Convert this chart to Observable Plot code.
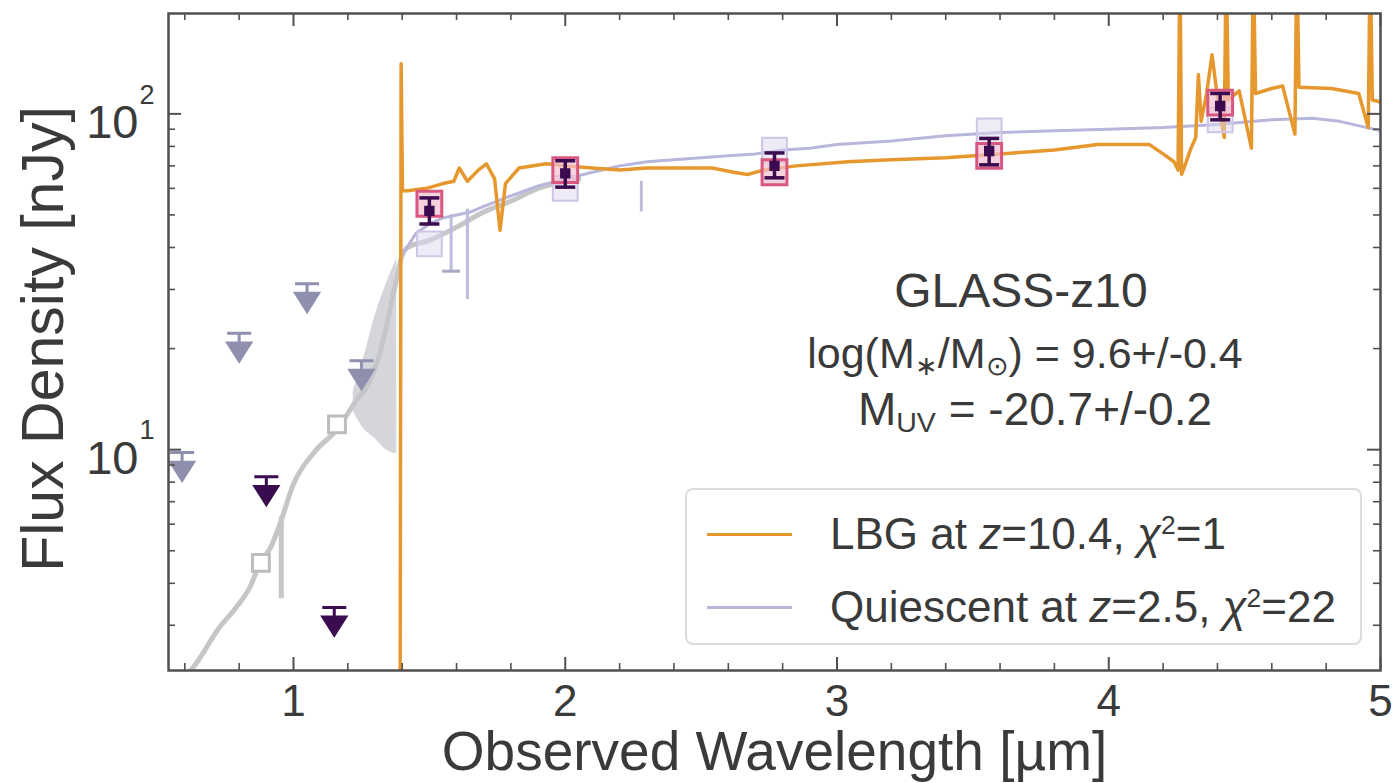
<!DOCTYPE html>
<html>
<head>
<meta charset="utf-8">
<script src="https://cdn.jsdelivr.net/npm/d3@7"></script>
<script src="https://cdn.jsdelivr.net/npm/@observablehq/plot@0.6"></script>
<style>
  body { margin: 0; background: #fff; font-family: "Liberation Sans", Arial, sans-serif; }
  #wrap { position: relative; width: 1392px; height: 783px; overflow: hidden; background: #fff; }
  .ann { position: absolute; transform: translate(-50%, -50%); white-space: nowrap; line-height: 1; color: #3a3a3a; }
  .ann sub { font-size: 0.62em; vertical-align: -0.25em; }
  #legend { position: absolute; left: 685px; top: 488px; width: 677px; height: 157px; box-sizing: border-box;
            border: 2px solid #dcdcdc; border-radius: 8px; background: rgba(255,255,255,0.85); }
  .lg-line { position: absolute; left: 20px; width: 85px; height: 0; }
  .lg-text { position: absolute; left: 143px; font-size: 44px; line-height: 1; color: #3a3a3a; transform: translateY(-50%); white-space: nowrap; }
  .lg-text sup { font-size: 0.6em; vertical-align: 0.55em; line-height: 0; }
</style>
</head>
<body>
<div id="wrap"></div>
<script>
// ---------------- data ----------------
// LBG model spectrum (z = 10.4)
const lbgWave = [1.380, 1.392, 1.396, 1.401, 1.42, 1.49, 1.55, 1.59, 1.61, 1.64, 1.68, 1.71, 1.74, 1.76, 1.78, 1.83, 1.93, 2.00, 2.10, 2.20, 2.30, 2.42, 2.54, 2.62, 2.67, 2.73, 2.85, 3.04, 3.20, 3.40, 3.65, 3.80, 3.96, 4.15, 4.20, 4.24, 4.255, 4.262, 4.268, 4.28, 4.30, 4.32, 4.33, 4.34, 4.36, 4.38, 4.40, 4.425, 4.432, 4.44, 4.48, 4.525, 4.532, 4.54, 4.60, 4.64, 4.685, 4.692, 4.70, 4.82, 4.92, 4.955, 4.962, 4.97, 4.99, 5.00];
const lbgFlux = [1, 1, 141, 59, 59, 60, 62, 63, 69, 63, 68, 71, 64, 45, 62, 69, 71, 70, 69, 68, 69, 69, 69, 67, 66, 68, 70, 72, 73, 74, 76.5, 78, 81, 81, 76, 72, 68, 300, 66, 70, 78, 85, 131, 95, 115, 150, 112, 85, 300, 110, 117, 79, 300, 115, 119, 121, 87, 300, 120, 119, 115, 91, 300, 110, 109, 108];

// Quiescent model spectrum (z = 2.5)
const quiWave = [1.40, 1.45, 1.50, 1.55, 1.60, 1.65, 1.70, 1.75, 1.80, 1.85, 1.90, 2.00, 2.10, 2.20, 2.30, 2.40, 2.50, 2.60, 2.70, 2.80, 2.90, 3.00, 3.20, 3.40, 3.60, 3.80, 4.00, 4.20, 4.40, 4.60, 4.75, 4.85, 4.95, 5.00];
const quiFlux = [38, 44, 47, 49, 50, 51, 53, 55, 57, 59, 61, 64, 67, 70, 72, 73, 74, 75, 76, 78, 79, 81, 83, 86, 88, 89, 90, 91, 93, 96, 97, 95, 91, 89];

// grey short-wavelength spectrum
const greyWave = [0.58, 0.65, 0.72, 0.79, 0.84, 0.87, 0.92, 0.95, 1.00, 1.08, 1.165, 1.23, 1.276, 1.32, 1.375, 1.40, 1.42, 1.50, 1.60, 1.70, 1.80, 1.90, 2.00, 2.05];
const greyFlux = [2.0, 2.36, 2.9, 3.4, 3.9, 4.46, 5.2, 6.0, 7.9, 9.9, 11.6, 14.0, 15.7, 19.7, 31, 38, 40, 42, 46, 51, 55, 60, 63, 64];

// grey spectral band 1.22-1.38 um
const bandWave = [1.22, 1.26, 1.30, 1.34, 1.38];
const bandLow  = [13, 11.5, 10.8, 10, 9.7];
const bandHigh = [15, 19, 25, 31, 37];

// grey open squares (model photometry at short wavelengths)
const greySqWave = [0.88, 1.16];
const greySqFlux = [4.6, 11.9];

// grey vertical bar
const greyBarWave = [0.955];
const greyBarLow = [3.6];
const greyBarHigh = [6.3];

// light lavender error bars
const lavBarWave = [1.58, 1.64, 2.28];
const lavBarLow  = [34, 28, 51];
const lavBarHigh = [50, 52, 63];

// photometric detections
const photWave = [1.50, 2.00, 2.77, 3.56, 4.41];
const photFlux = [51.4, 66.5, 70, 77.5, 105.5];
const photLow  = [47, 60.5, 64.5, 70.5, 96];
const photHigh = [56.2, 72.5, 76.5, 84.5, 115];

// model photometry
const lbgModelFlux = [54, 68, 67, 75, 108];
const quiModelFlux = [41, 60, 78, 89, 96];

// upper limits
const ulDarkWave = [0.90, 1.15];
const ulDarkFlux = [8.3, 3.39];
const ulLightWave = [0.59, 0.80, 1.05, 1.25];
const ulLightFlux = [9.8, 22.2, 31.2, 18.4];

// ticks
const xMajor = [1, 2, 3, 4, 5];
const xMinor = [0.6, 0.8, 1.2, 1.4, 1.6, 1.8, 2.2, 2.4, 2.6, 2.8, 3.2, 3.4, 3.6, 3.8, 4.2, 4.4, 4.6, 4.8];
const yMajor = [10, 100];
const yMinor = [3, 4, 5, 6, 7, 8, 9, 20, 30, 40, 50, 60, 70, 80, 90];

// ---------------- tables ----------------
const zip = (xs, ys, k = "y") => xs.map((x, i) => ({x, [k]: ys[i]}));
const lbg = zip(lbgWave, lbgFlux);
const qui = zip(quiWave, quiFlux);
const grey = zip(greyWave, greyFlux);
const band = bandWave.map((x, i) => ({x, lo: bandLow[i], hi: bandHigh[i]}));
const greySq = zip(greySqWave, greySqFlux);
const greyBar = greyBarWave.map((x, i) => ({x, lo: greyBarLow[i], hi: greyBarHigh[i]}));
const lavBar = lavBarWave.map((x, i) => ({x, lo: lavBarLow[i], hi: lavBarHigh[i]}));
const phot = photWave.map((x, i) => ({x, y: photFlux[i], lo: photLow[i], hi: photHigh[i], lbg: lbgModelFlux[i], qui: quiModelFlux[i]}));
const ulDark = zip(ulDarkWave, ulDarkFlux);
const ulLight = zip(ulLightWave, ulLightFlux);

// ---------------- symbols ----------------
const upperLimit = {
  draw(ctx, size) {
    const r = Math.sqrt(size / Math.PI);
    ctx.moveTo(-r, 0); ctx.lineTo(r, 0);
    ctx.moveTo(0, 0); ctx.lineTo(0, 1.2 * r);
    ctx.moveTo(-0.95 * r, 0.8 * r); ctx.lineTo(0.95 * r, 0.8 * r); ctx.lineTo(0, 2.3 * r); ctx.closePath();
  }
};
const capLine = {
  draw(ctx, size) {
    const r = Math.sqrt(size / Math.PI);
    ctx.moveTo(-r, 0); ctx.lineTo(r, 0);
  }
};

// ---------------- layout ----------------
const W = 1392, H = 783;
const mL = 168, mR = 12, mT = 13, mB = 113;
const fw = W - mL - mR, fh = H - mT - mB;
const axisColor = "#505050";
const textColor = "#3a3a3a";

const orange = "#e6982f";
const lavender = "#b7b6dd";
const greyC = "#c6c6c9";
const dark = "#3b0b4f";
const lightLim = "#8f8fae";

const chart = Plot.plot({
  width: W, height: H,
  marginLeft: mL, marginRight: mR, marginTop: mT, marginBottom: mB,
  style: {fontFamily: "'Liberation Sans', Arial, sans-serif", color: textColor, background: "white", overflow: "visible"},
  x: {domain: [0.54, 5.0]},
  y: {type: "log", domain: [2.2, 199], axis: null},
  marks: [
    // grey short-wavelength material
    Plot.areaY(band, {x: "x", y1: "lo", y2: "hi", fill: "#d3d4da", fillOpacity: 0.95, curve: "monotone-x"}),
    Plot.line(grey, {x: "x", y: "y", stroke: greyC, strokeWidth: 5, clip: true, curve: "monotone-x"}),
    Plot.ruleX(greyBar, {x: "x", y1: "lo", y2: "hi", stroke: greyC, strokeWidth: 5}),
    Plot.dot(greySq, {x: "x", y: "y", symbol: "square", r: 9.5, stroke: "#bdbdbd", strokeWidth: 3, fill: "white"}),
    Plot.ruleX(lavBar, {x: "x", y1: "lo", y2: "hi", stroke: "#bdbddb", strokeWidth: 3}),
    Plot.dot(lavBar.slice(0, 1), {x: "x", y: "lo", symbol: capLine, r: 9, stroke: "#a9a9c4", strokeWidth: 3, fill: "none"}),
    // model spectra
    Plot.line(qui, {x: "x", y: "y", stroke: lavender, strokeWidth: 3, clip: true}),
    Plot.line(lbg, {x: "x", y: "y", stroke: orange, strokeWidth: 3.5, clip: true}),
    // model photometry
    Plot.dot(phot, {x: "x", y: "qui", symbol: "square", r: 14, fill: "#ddd6ee", fillOpacity: 0.5, stroke: "#cdc5e6", strokeWidth: 2}),
    Plot.dot(phot, {x: "x", y: "lbg", symbol: "square", r: 14, fill: "#f2bfd0", fillOpacity: 0.7, stroke: "#d9577f", strokeWidth: 3}),
    // detections
    Plot.ruleX(phot, {x: "x", y1: "lo", y2: "hi", stroke: dark, strokeWidth: 3.5}),
    Plot.dot(phot, {x: "x", y: "lo", symbol: capLine, r: 10, stroke: dark, strokeWidth: 3.5, fill: "none"}),
    Plot.dot(phot, {x: "x", y: "hi", symbol: capLine, r: 10, stroke: dark, strokeWidth: 3.5, fill: "none"}),
    Plot.dot(phot, {x: "x", y: "y", symbol: "square", r: 5, fill: dark, stroke: dark}),
    // upper limits
    Plot.dot(ulLight, {x: "x", y: "y", symbol: upperLimit, r: 12, fill: lightLim, stroke: lightLim, strokeWidth: 3}),
    Plot.dot(ulDark, {x: "x", y: "y", symbol: upperLimit, r: 12, fill: dark, stroke: dark, strokeWidth: 3}),
    // ticks (inward, all four sides)
    Plot.tickX(xMajor, {x: d => d, insetTop: fh - 13, stroke: axisColor, strokeWidth: 2}),
    Plot.tickX(xMinor, {x: d => d, insetTop: fh - 7, stroke: axisColor, strokeWidth: 1.6}),
    Plot.tickX(xMajor, {x: d => d, insetBottom: fh - 13, stroke: axisColor, strokeWidth: 2}),
    Plot.tickX(xMinor, {x: d => d, insetBottom: fh - 7, stroke: axisColor, strokeWidth: 1.6}),
    Plot.tickY(yMajor, {y: d => d, insetRight: fw - 13, stroke: axisColor, strokeWidth: 2}),
    Plot.tickY(yMinor, {y: d => d, insetRight: fw - 7, stroke: axisColor, strokeWidth: 1.6}),
    Plot.tickY(yMajor, {y: d => d, insetLeft: fw - 13, stroke: axisColor, strokeWidth: 2}),
    Plot.tickY(yMinor, {y: d => d, insetLeft: fw - 7, stroke: axisColor, strokeWidth: 1.6}),
    Plot.frame({stroke: axisColor, strokeWidth: 2.5}),
    // tick labels
    Plot.axisX({ticks: xMajor, tickSize: 0, tickPadding: 14, fontSize: 44, tickFormat: d => String(d), label: null, fill: textColor}),
    Plot.text(yMajor, {y: d => d, text: () => "10", frameAnchor: "left", textAnchor: "end", lineAnchor: "middle", dx: -30, dy: 9, fontSize: 47, fill: textColor}),
    Plot.text(yMajor, {y: d => d, text: d => String(Math.round(Math.log10(d))), frameAnchor: "left", textAnchor: "start", lineAnchor: "middle", dx: -29, dy: -19, fontSize: 27, fill: textColor}),
    // axis titles
    Plot.text(["Observed Wavelength [µm]"], {frameAnchor: "bottom", textAnchor: "middle", lineAnchor: "middle", dy: 82, fontSize: 55, fill: textColor}),
    Plot.text(["Flux Density [nJy]"], {frameAnchor: "left", textAnchor: "middle", lineAnchor: "middle", rotate: -90, dx: -124, dy: -3, fontSize: 59, fill: textColor})
  ]
});

const wrap = document.getElementById("wrap");
wrap.appendChild(chart);

// annotation
const ann = [
  {html: "GLASS-z10", x: 1021, y: 291, size: 48},
  {html: "log(M<sub>∗</sub>/M<sub>⊙</sub>) = 9.6+/-0.4", x: 1025, y: 356, size: 43},
  {html: "M<sub>UV</sub> = -20.7+/-0.2", x: 1035, y: 411, size: 46}
];
for (const a of ann) {
  const d = document.createElement("div");
  d.className = "ann";
  d.style.left = a.x + "px"; d.style.top = a.y + "px"; d.style.fontSize = a.size + "px";
  d.innerHTML = a.html;
  wrap.appendChild(d);
}

// legend
const legendItems = [
  {color: orange, html: "LBG at <i>z</i>=10.4, <i>χ</i><sup>2</sup>=1", y: 44},
  {color: lavender, html: "Quiescent at <i>z</i>=2.5, <i>χ</i><sup>2</sup>=22", y: 117}
];
const lg = document.createElement("div");
lg.id = "legend";
for (const it of legendItems) {
  const ln = document.createElement("div");
  ln.className = "lg-line";
  ln.style.top = (it.y - 1.5) + "px";
  ln.style.borderTop = "3px solid " + it.color;
  lg.appendChild(ln);
  const tx = document.createElement("div");
  tx.className = "lg-text";
  tx.style.top = it.y + "px";
  tx.innerHTML = it.html;
  lg.appendChild(tx);
}
wrap.appendChild(lg);
</script>
</body>
</html>
